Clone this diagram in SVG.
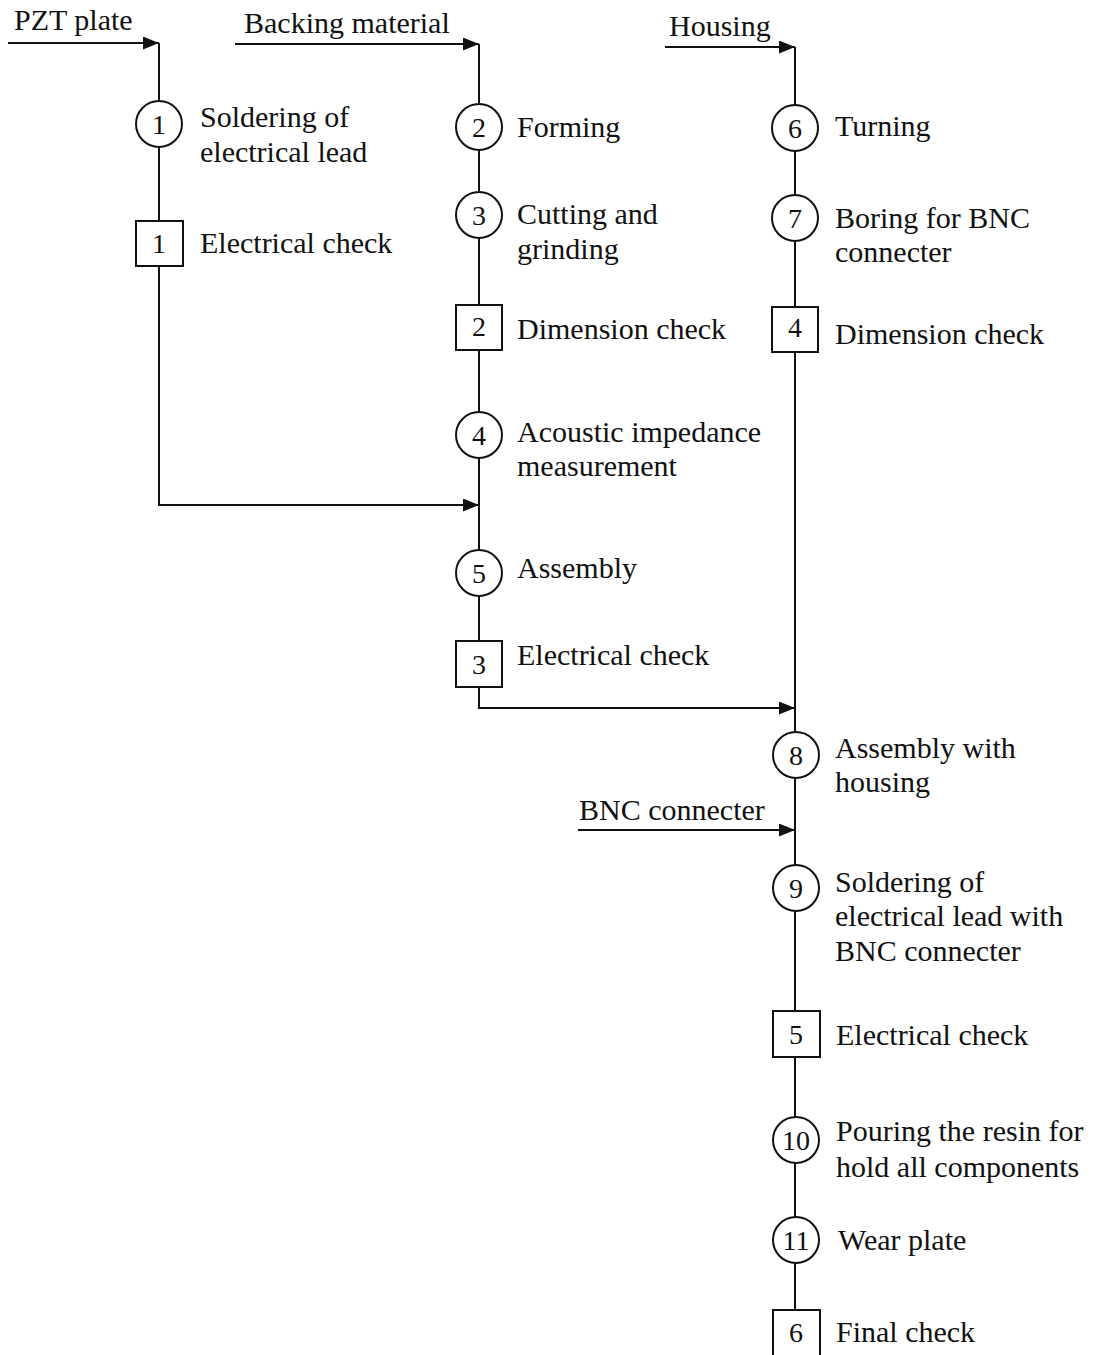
<svg xmlns="http://www.w3.org/2000/svg" width="1095" height="1355" viewBox="0 0 1095 1355">
<style>
.ln{fill:none;stroke:#111;stroke-width:2}
.nd{fill:#fff;stroke:#111;stroke-width:2}
.t{font-family:"Liberation Serif","Times New Roman",serif;font-size:30px;fill:#111}
.n{font-family:"Liberation Serif","Times New Roman",serif;font-size:28px;fill:#111;text-anchor:middle}
</style>
<defs>
<marker id="ah" markerWidth="17" markerHeight="13" refX="16" refY="6.5" orient="auto" markerUnits="userSpaceOnUse">
<path d="M0,0 L16,6.5 L0,13 Z" fill="#111"/>
</marker>
</defs>
<rect width="1095" height="1355" fill="#fff"/>
<g id="connectors">
<path class="ln" d="M8,43 H159" marker-end="url(#ah)"/>
<path class="ln" d="M159,43 V505 H479" marker-end="url(#ah)"/>
<path class="ln" d="M235,44 H479" marker-end="url(#ah)"/>
<path class="ln" d="M479,44 V708 H795" marker-end="url(#ah)"/>
<path class="ln" d="M665,47 H795" marker-end="url(#ah)"/>
<path class="ln" d="M795,47 V1355"/>
<path class="ln" d="M578,830 H795" marker-end="url(#ah)"/>
</g>
<g id="labels">
<text class="t" x="14" y="30">PZT plate</text>
<text class="t" x="244" y="33">Backing material</text>
<text class="t" x="669" y="36">Housing</text>
<text class="t" x="579" y="820">BNC connecter</text>
</g>
<g id="op1"><circle class="nd" cx="159" cy="124" r="23"/><text class="n" x="159" y="134">1</text><text class="t" x="200" y="127">Soldering of</text><text class="t" x="200" y="162">electrical lead</text></g>
<g id="ck1"><rect class="nd" x="136" y="221" width="47" height="45"/><text class="n" x="159" y="253">1</text><text class="t" x="200" y="253">Electrical check</text></g>
<g id="op2"><circle class="nd" cx="479" cy="127" r="23"/><text class="n" x="479" y="137">2</text><text class="t" x="517" y="137">Forming</text></g>
<g id="op3"><circle class="nd" cx="479" cy="215" r="23"/><text class="n" x="479" y="225">3</text><text class="t" x="517" y="224">Cutting and</text><text class="t" x="517" y="259">grinding</text></g>
<g id="ck2"><rect class="nd" x="456" y="305" width="46" height="45"/><text class="n" x="479" y="336">2</text><text class="t" x="517" y="339">Dimension check</text></g>
<g id="op4"><circle class="nd" cx="479" cy="435" r="23"/><text class="n" x="479" y="445">4</text><text class="t" x="517" y="442">Acoustic impedance</text><text class="t" x="517" y="476">measurement</text></g>
<g id="op5"><circle class="nd" cx="479" cy="573" r="23"/><text class="n" x="479" y="583">5</text><text class="t" x="517" y="578">Assembly</text></g>
<g id="ck3"><rect class="nd" x="456" y="641" width="46" height="46"/><text class="n" x="479" y="674">3</text><text class="t" x="517" y="665">Electrical check</text></g>
<g id="op6"><circle class="nd" cx="795" cy="128" r="23"/><text class="n" x="795" y="138">6</text><text class="t" x="835" y="136">Turning</text></g>
<g id="op7"><circle class="nd" cx="795" cy="218" r="23"/><text class="n" x="795" y="228">7</text><text class="t" x="835" y="228">Boring for BNC</text><text class="t" x="835" y="262">connecter</text></g>
<g id="ck4"><rect class="nd" x="772" y="307" width="46" height="45"/><text class="n" x="795" y="337">4</text><text class="t" x="835" y="344">Dimension check</text></g>
<g id="op8"><circle class="nd" cx="796" cy="755" r="23"/><text class="n" x="796" y="765">8</text><text class="t" x="835" y="758">Assembly with</text><text class="t" x="835" y="792">housing</text></g>
<g id="op9"><circle class="nd" cx="796" cy="888" r="23"/><text class="n" x="796" y="898">9</text><text class="t" x="835" y="892">Soldering of</text><text class="t" x="835" y="926">electrical lead with</text><text class="t" x="835" y="961">BNC connecter</text></g>
<g id="ck5"><rect class="nd" x="773" y="1011" width="47" height="46"/><text class="n" x="796" y="1044">5</text><text class="t" x="836" y="1045">Electrical check</text></g>
<g id="op10"><circle class="nd" cx="796" cy="1140" r="23"/><text class="n" x="796" y="1150">10</text><text class="t" x="836" y="1141">Pouring the resin for</text><text class="t" x="836" y="1177">hold all components</text></g>
<g id="op11"><circle class="nd" cx="796" cy="1240" r="23"/><text class="n" x="796" y="1250">11</text><text class="t" x="838" y="1250">Wear plate</text></g>
<g id="ck6"><rect class="nd" x="773" y="1310" width="47" height="47"/><text class="n" x="796" y="1342">6</text><text class="t" x="836" y="1342">Final check</text></g>
</svg>
